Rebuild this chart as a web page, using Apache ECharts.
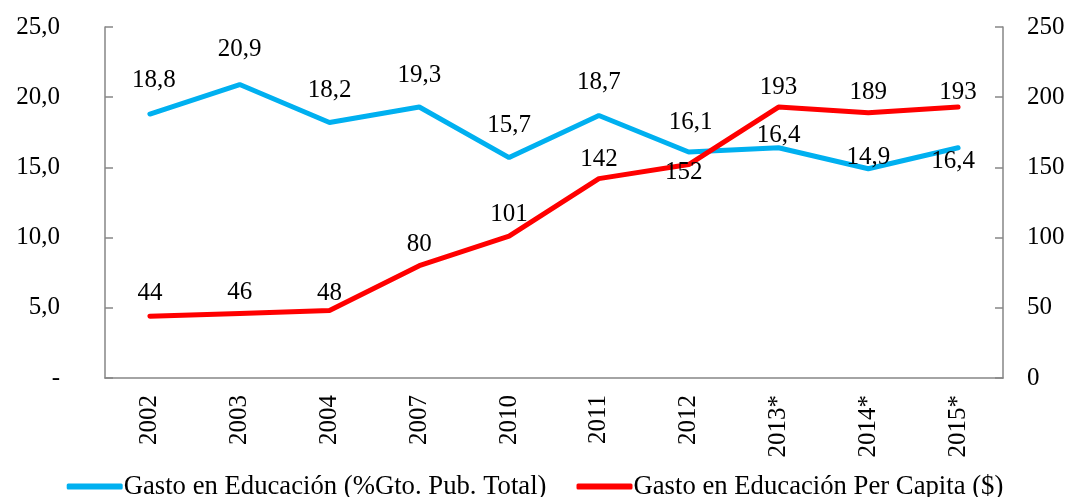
<!DOCTYPE html>
<html>
<head>
<meta charset="utf-8">
<script src="https://cdn.jsdelivr.net/npm/echarts@6/dist/echarts.min.js"></script>
<style>
  html, body { margin: 0; padding: 0; background: #fff; }
  #chart { width: 1070px; height: 497px; }
</style>
</head>
<body>
<div id="chart"></div>
<script>
// datos
var years = ['2002', '2003', '2004', '2007', '2010', '2011', '2012', '2013*', '2014*', '2015*']
var gastoPct = [18.8, 20.9, 18.2, 19.3, 15.7, 18.7, 16.1, 16.4, 14.9, 16.4]
var gastoPerCapita = [44, 46, 48, 80, 101, 142, 152, 193, 189, 193]
var nameBlue = 'Gasto en Educación (%Gto. Pub. Total)'
var nameRed = 'Gasto en Educación Per Capita ($)'

// desplazamiento de las etiquetas (px) respecto al punto
var blueDy = [-34, -35, -32, -32, -32, -33, -30, -12, -11, 14]
var blueDx = [4, 0, 0, 0, 0, 0, 2, 0, 0, -5]
var redDy = [-23, -21, -17, -21, -22, -19, 8, -20, -20, -15]
var redDx = [0, 0, 0, 0, 0, 0, -5, 0, 0, 0]

var font = 'Liberation Serif, Times New Roman, serif'
var fs = 25
var axisGray = '#868686'

function withLabels(values, dx, dy, fmt) {
  return values.map(function(v, i) {
    return {
      value: v,
      label: { offset: [dx[i], dy[i]], formatter: fmt(v) }
    }
  })
}

var chart = echarts.init(document.getElementById('chart'))
chart.setOption({
  animation: false,
  textStyle: { fontFamily: font },
  grid: { left: 105, right: 67, top: 27, bottom: 119 },
  legend: {
    bottom: -3,
    padding: 0,
    left: 'center',
    itemWidth: 56,
    itemHeight: 6,
    itemGap: 30,
    icon: 'roundRect',
    textStyle: { fontFamily: font, fontSize: 26.7, color: '#000', padding: [0, 0, 0, -4] },
    data: [nameBlue, nameRed]
  },
  xAxis: {
    type: 'category',
    data: years,
    boundaryGap: true,
    axisLine: { lineStyle: { color: axisGray, width: 1.5 } },
    axisTick: { inside: true, length: 8, lineStyle: { color: axisGray, width: 1.5 } },
    axisLabel: { rotate: 90, margin: 17, fontFamily: font, fontSize: fs, color: '#000' }
  },
  yAxis: [{
    type: 'value',
    min: 0,
    max: 25,
    interval: 5,
    splitLine: { show: false },
    axisLine: { show: true, lineStyle: { color: axisGray, width: 1.5 } },
    axisTick: { show: true, inside: true, length: 8, lineStyle: { color: axisGray, width: 1.5 } },
    axisLabel: {
      margin: 45,
      fontFamily: font,
      fontSize: fs,
      color: '#000',
      formatter: function(v) { return v === 0 ? '-' : v.toFixed(1).replace('.', ',') }
    }
  }, {
    type: 'value',
    min: 0,
    max: 250,
    interval: 50,
    splitLine: { show: false },
    axisLine: { show: true, lineStyle: { color: axisGray, width: 1.5 } },
    axisTick: { show: true, inside: true, length: 8, lineStyle: { color: axisGray, width: 1.5 } },
    axisLabel: { margin: 24, fontFamily: font, fontSize: fs, color: '#000' }
  }],
  series: [{
    name: nameBlue,
    type: 'line',
    yAxisIndex: 0,
    symbol: 'circle',
    symbolSize: 2,
    color: '#00B0F0',
    lineStyle: { width: 5, color: '#00B0F0', cap: 'round' },
    label: { show: true, position: 'inside', fontFamily: font, fontSize: fs, color: '#000' },
    data: withLabels(gastoPct, blueDx, blueDy, function(v) { return v.toFixed(1).replace('.', ',') })
  }, {
    name: nameRed,
    type: 'line',
    yAxisIndex: 1,
    symbol: 'circle',
    symbolSize: 2,
    color: '#FF0000',
    lineStyle: { width: 5, color: '#FF0000', cap: 'round' },
    label: { show: true, position: 'inside', fontFamily: font, fontSize: fs, color: '#000' },
    data: withLabels(gastoPerCapita, redDx, redDy, function(v) { return String(v) })
  }]
})
</script>
</body>
</html>
